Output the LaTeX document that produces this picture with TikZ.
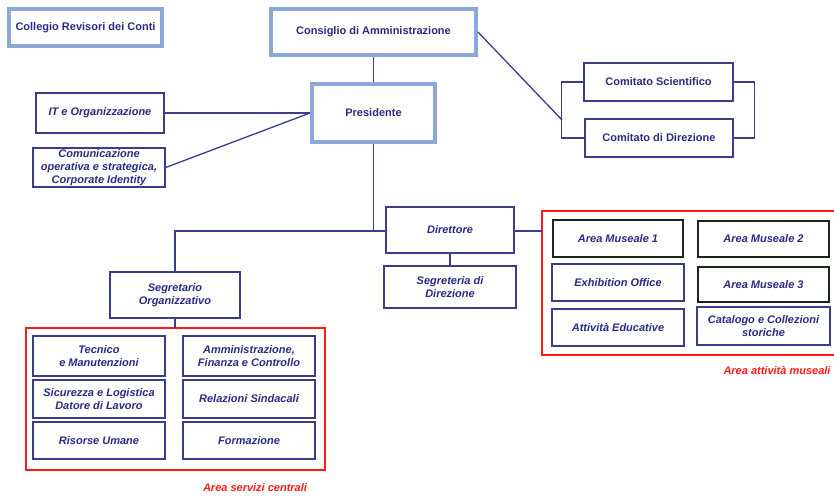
\documentclass[tikz,border=0pt]{standalone}
\usepackage{fontspec}
\setmainfont{Liberation Sans}
\definecolor{navy}{HTML}{2B2B82}
\definecolor{lineblue}{HTML}{3C3C8C}
\definecolor{lightblue}{HTML}{8CA8D8}
\definecolor{darkgreen}{HTML}{1A261A}
\definecolor{redf}{HTML}{FF1A1A}
\begin{document}
\begin{tikzpicture}[x=1pt,y=-1pt,
  every node/.style={font=\fontsize{11}{12.8}\selectfont\bfseries, text=navy, align=center, inner sep=0pt},
  thick box/.style={draw=lightblue, line width=4pt, fill=white},
  thin box/.style={draw=lineblue, line width=1.3pt, fill=white, font=\fontsize{11}{12.8}\selectfont\bfseries\itshape},
  mus box/.style={draw=darkgreen, line width=2.4pt, fill=white, font=\fontsize{11}{12.8}\selectfont\bfseries\itshape},
  conn/.style={draw=lineblue, line width=1.3pt},
  redframe/.style={draw=redf, line width=2pt},
  redlabel/.style={text=redf, font=\fontsize{11}{12.8}\selectfont\bfseries\itshape}]
\useasboundingbox (0,0) rectangle (834,500);
\clip (0,0) rectangle (834,500);
% red frames
\draw[redframe] (26,328) rectangle (325,470);
\draw[redframe] (542,211) rectangle (840,355);
% top nodes
\node[thick box, minimum width=153, minimum height=37] (coll) at (85.5,27.5) {Collegio Revisori dei Conti};
\node[thick box, minimum width=205, minimum height=46] (cons) at (373.5,32) {Consiglio di Amministrazione};
\node[thick box, minimum width=123, minimum height=58] (pres) at (373.5,113) {Presidente};
\node[thin box, minimum width=128, minimum height=40] (it) at (100,113) {IT e Organizzazione};
\node[thin box, minimum width=132, minimum height=39] (com) at (99,167.5) {Comunicazione\\operativa e strategica,\\Corporate Identity};
\node[thin box, font=\fontsize{11}{12.8}\selectfont\bfseries, minimum width=149, minimum height=38] (cs) at (658.5,82) {Comitato Scientifico};
\node[thin box, font=\fontsize{11}{12.8}\selectfont\bfseries, minimum width=148, minimum height=38] (cd) at (659,138) {Comitato di Direzione};
% middle
\node[thin box, minimum width=128, minimum height=46] (dir) at (450,230) {Direttore};
\node[thin box, minimum width=132, minimum height=42] (segd) at (450,287) {Segreteria di\\Direzione};
\node[thin box, minimum width=130, minimum height=46] (sego) at (175,295) {Segretario\\Organizzativo};
% area servizi centrali
\node[thin box, minimum width=132, minimum height=40] (tec) at (99,356) {Tecnico\\e Manutenzioni};
\node[thin box, minimum width=132, minimum height=38] (sic) at (99,399) {Sicurezza e Logistica\\Datore di Lavoro};
\node[thin box, minimum width=132, minimum height=37] (ris) at (99,440.5) {Risorse Umane};
\node[thin box, minimum width=132, minimum height=40] (amm) at (249,356) {Amministrazione,\\Finanza e Controllo};
\node[thin box, minimum width=132, minimum height=38] (rel) at (249,399) {Relazioni Sindacali};
\node[thin box, minimum width=132, minimum height=37] (for) at (249,440.5) {Formazione};
\node[redlabel] (lsc) at (255,488) {Area servizi centrali};
% area attivita museali
\node[mus box, minimum width=130, minimum height=37] (am1) at (618,238.5) {Area Museale 1};
\node[thin box, minimum width=132, minimum height=37] (exh) at (618,282.5) {Exhibition Office};
\node[thin box, minimum width=132, minimum height=37] (att) at (618,327.5) {Attività Educative};
\node[mus box, minimum width=131, minimum height=36] (am2) at (763.5,239) {Area Museale 2};
\node[mus box, minimum width=131, minimum height=35] (am3) at (763.5,284.5) {Area Museale 3};
\node[thin box, minimum width=133, minimum height=38] (cat) at (763.5,326) {Catalogo e Collezioni\\storiche};
\node[redlabel] (lam) at (777,371) {Area attività museali};
% coordinates
\coordinate (bl) at (562,120);
\coordinate (hub) at (373.5,231);
\coordinate (red1top) at (175,328);
\coordinate (red2left) at (542,231);
% connectors
\draw[conn] (cons.south) -- (pres.north);
\draw[conn] (it.east) -- (pres.west);
\draw[conn] (com.east) -- (pres.west);
\draw[conn] (cons.east) -- (bl);
\draw[conn] (cs.west) -- ++(-22,0) |- (cd.west);
\draw[conn] (cs.east) -- ++(21,0) |- (cd.east);
\draw[conn] (pres.south) -- (hub);
\draw[conn] (hub) -| (sego.north);
\draw[conn] (hub) -- (dir.west |- hub);
\draw[conn] (dir.east |- red2left) -- (red2left);
\draw[conn] (dir.south) -- (segd.north);
\draw[conn] (sego.south) -- (red1top);
\end{tikzpicture}
\end{document}
